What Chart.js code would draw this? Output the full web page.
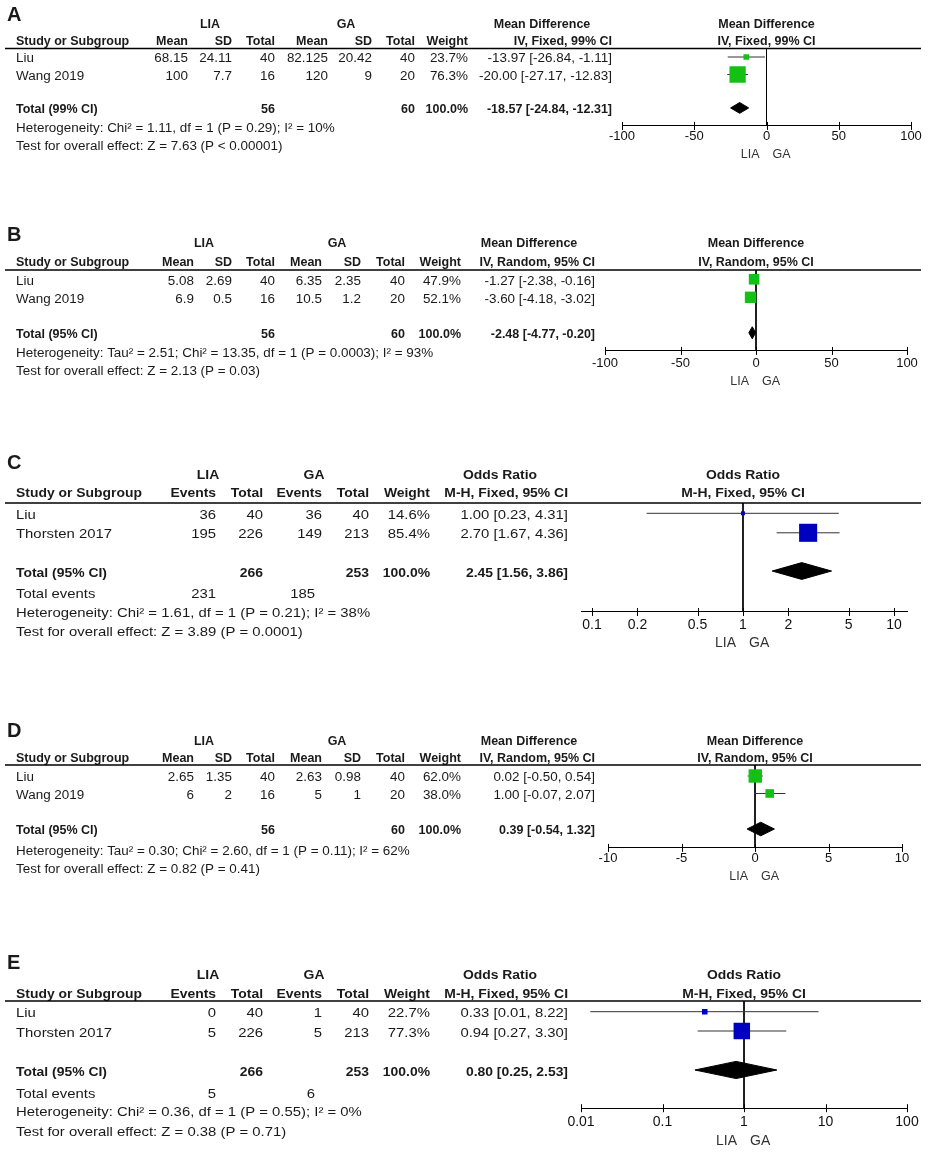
<!DOCTYPE html>
<html>
<head>
<meta charset="utf-8">
<script src="https://cdn.jsdelivr.net/npm/chart.js@4.4.1/dist/chart.umd.min.js"></script>
<style>
    html, body { margin: 0; padding: 0; background: #fff; }
    #fig { position: relative; width: 928px; height: 1153px; overflow: hidden; }
    #fig canvas { position: absolute; left: 0; }
</style>
</head>
<body>
<div id="fig"></div>
<script>
// =============================================================================
// Data
// =============================================================================

// A - mean difference, IV fixed, 99% CI
const A_STUDIES = ['Liu', 'Wang 2019'];
const A_LIA_MEAN = [68.15, 100];
const A_LIA_SD = [24.11, 7.7];
const A_LIA_N = [40, 16];
const A_GA_MEAN = [82.125, 120];
const A_GA_SD = [20.42, 9];
const A_GA_N = [40, 20];
const A_WEIGHT = [23.7, 76.3];
const A_EST = [-13.97, -20.00];
const A_LOW = [-26.84, -27.17];
const A_HIGH = [-1.11, -12.83];
const A_POOLED = [-18.57, -24.84, -12.31];
const A_TOTAL_N = [56, 60];
const A_TICKS = [-100, -50, 0, 50, 100];

// B - mean difference, IV random, 95% CI
const B_STUDIES = ['Liu', 'Wang 2019'];
const B_LIA_MEAN = [5.08, 6.9];
const B_LIA_SD = [2.69, 0.5];
const B_LIA_N = [40, 16];
const B_GA_MEAN = [6.35, 10.5];
const B_GA_SD = [2.35, 1.2];
const B_GA_N = [40, 20];
const B_WEIGHT = [47.9, 52.1];
const B_EST = [-1.27, -3.60];
const B_LOW = [-2.38, -4.18];
const B_HIGH = [-0.16, -3.02];
const B_POOLED = [-2.48, -4.77, -0.20];
const B_TOTAL_N = [56, 60];
const B_TICKS = [-100, -50, 0, 50, 100];

// C - odds ratio, M-H fixed, 95% CI
const C_STUDIES = ['Liu', 'Thorsten 2017'];
const C_LIA_EVENTS = [36, 195];
const C_LIA_N = [40, 226];
const C_GA_EVENTS = [36, 149];
const C_GA_N = [40, 213];
const C_WEIGHT = [14.6, 85.4];
const C_EST = [1.00, 2.70];
const C_LOW = [0.23, 1.67];
const C_HIGH = [4.31, 4.36];
const C_POOLED = [2.45, 1.56, 3.86];
const C_TOTAL_N = [266, 253];
const C_TOTAL_EVENTS = [231, 185];
const C_TICKS = [0.1, 0.2, 0.5, 1, 2, 5, 10];

// D - mean difference, IV random, 95% CI
const D_STUDIES = ['Liu', 'Wang 2019'];
const D_LIA_MEAN = [2.65, 6];
const D_LIA_SD = [1.35, 2];
const D_LIA_N = [40, 16];
const D_GA_MEAN = [2.63, 5];
const D_GA_SD = [0.98, 1];
const D_GA_N = [40, 20];
const D_WEIGHT = [62.0, 38.0];
const D_EST = [0.02, 1.00];
const D_LOW = [-0.50, -0.07];
const D_HIGH = [0.54, 2.07];
const D_POOLED = [0.39, -0.54, 1.32];
const D_TOTAL_N = [56, 60];
const D_TICKS = [-10, -5, 0, 5, 10];

// E - odds ratio, M-H fixed, 95% CI
const E_STUDIES = ['Liu', 'Thorsten 2017'];
const E_LIA_EVENTS = [0, 5];
const E_LIA_N = [40, 226];
const E_GA_EVENTS = [1, 5];
const E_GA_N = [40, 213];
const E_WEIGHT = [22.7, 77.3];
const E_EST = [0.33, 0.94];
const E_LOW = [0.013, 0.27];
const E_HIGH = [8.22, 3.30];
const E_POOLED = [0.80, 0.25, 2.53];
const E_TOTAL_N = [266, 253];
const E_TOTAL_EVENTS = [5, 6];
const E_TICKS = [0.01, 0.1, 1, 10, 100];

// =============================================================================
// Styles
// =============================================================================

const FONT = "'Liberation Sans', Arial, Helvetica, sans-serif";
const TEXT = '#1a1a1a';
const GREEN = '#14c014';
const BLUE = '#0000c0';
const CI_COLOR = '#333333';
const AXIS_H = 26;
const TEXT_DY = 2;

const MD_COLS_A = [188, 232, 275, 328, 372, 415, 468, 612];
const MD_COLS = [194, 232, 275, 322, 361, 405, 461, 595];
const OR_COLS = [216, 263, 322, 369, 430, 568];

// text metrics differ a little between the stacked sub-figures
const TEXT_SMALL = { size: 12.5, regSx: 1.075, boldSx: 1.0, tick: 13, fav: 12.5 };
const TEXT_LARGE = { size: 13, regSx: 1.145, boldSx: 1.07, tick: 14, fav: 14 };

// =============================================================================
// Panels
// =============================================================================

const PANELS = [
    {
        letter: 'A', color: GREEN, nullValue: 0, log: false,
        effect: 'Mean Difference', method: 'IV, Fixed, 99% CI', totalLabel: 'Total (99% CI)',
        colHeads: ['Mean', 'SD', 'Total', 'Mean', 'SD', 'Total'],
        cells: [A_LIA_MEAN, A_LIA_SD, A_LIA_N, A_GA_MEAN, A_GA_SD, A_GA_N],
        totalCols: [2, 5], totalN: A_TOTAL_N,
        studies: A_STUDIES, weight: A_WEIGHT, est: A_EST, low: A_LOW, high: A_HIGH, pooled: A_POOLED,
        ticks: A_TICKS,
        het: 'Heterogeneity: Chi\u00b2 = 1.11, df = 1 (P = 0.29); I\u00b2 = 10%',
        test: 'Test for overall effect: Z = 7.63 (P < 0.00001)',
        layout: {
            top: 0, height: 215, y1: 57, pitch: 17.5, text: TEXT_SMALL,
            rows: { letter: -1.4, h1: -0.95, h2: 0.03, rule: 0.51, total: 3.91, het: 5.0, test: 6.03, axis: 4.94 },
            xPx: [622, 911], xRange: [-100, 100], tickPad: 3, favY: 29, diamondHalf: 5.4,
            cols: MD_COLS_A, groups: [210, 346, 542]
        }
    },
    {
        letter: 'B', color: GREEN, nullValue: 0, log: false,
        effect: 'Mean Difference', method: 'IV, Random, 95% CI', totalLabel: 'Total (95% CI)',
        colHeads: ['Mean', 'SD', 'Total', 'Mean', 'SD', 'Total'],
        cells: [B_LIA_MEAN, B_LIA_SD, B_LIA_N, B_GA_MEAN, B_GA_SD, B_GA_N],
        totalCols: [2, 5], totalN: B_TOTAL_N,
        studies: B_STUDIES, weight: B_WEIGHT, est: B_EST, low: B_LOW, high: B_HIGH, pooled: B_POOLED,
        ticks: B_TICKS,
        het: 'Heterogeneity: Tau\u00b2 = 2.51; Chi\u00b2 = 13.35, df = 1 (P = 0.0003); I\u00b2 = 93%',
        test: 'Test for overall effect: Z = 2.13 (P = 0.03)',
        layout: {
            top: 215, height: 235, y1: 279.3, pitch: 18, text: TEXT_SMALL,
            rows: { letter: -1.46, h1: -1.07, h2: -0.02, rule: 0.48, total: 3.97, het: 5.04, test: 6.04, axis: 4.98 },
            xPx: [605, 907], xRange: [-100, 100], tickPad: 5, favY: 31, diamondHalf: 6,
            cols: MD_COLS, groups: [204, 337, 529]
        }
    },
    {
        letter: 'C', color: BLUE, nullValue: 1, log: true,
        effect: 'Odds Ratio', method: 'M-H, Fixed, 95% CI', totalLabel: 'Total (95% CI)',
        colHeads: ['Events', 'Total', 'Events', 'Total'],
        cells: [C_LIA_EVENTS, C_LIA_N, C_GA_EVENTS, C_GA_N],
        totalCols: [1, 3], totalN: C_TOTAL_N, events: C_TOTAL_EVENTS,
        studies: C_STUDIES, weight: C_WEIGHT, est: C_EST, low: C_LOW, high: C_HIGH, pooled: C_POOLED,
        ticks: C_TICKS,
        het: 'Heterogeneity: Chi\u00b2 = 1.61, df = 1 (P = 0.21); I\u00b2 = 38%',
        test: 'Test for overall effect: Z = 3.89 (P = 0.0001)',
        layout: {
            top: 450, height: 250, y1: 513.3, pitch: 19.5, text: TEXT_LARGE,
            rows: { letter: -1.53, h1: -1.02, h2: -0.14, rule: 0.47, total: 3.96, events: 5.07, het: 6.02, test: 7.0, axis: 6.06 },
            xPx: [581, 907], xRange: [0.0846, 12.19], tickPad: 5, favY: 31, diamondHalf: 8.4,
            cols: OR_COLS, groups: [208, 314, 500], eventsX: [216, 315]
        }
    },
    {
        letter: 'D', color: GREEN, nullValue: 0, log: false,
        effect: 'Mean Difference', method: 'IV, Random, 95% CI', totalLabel: 'Total (95% CI)',
        colHeads: ['Mean', 'SD', 'Total', 'Mean', 'SD', 'Total'],
        cells: [D_LIA_MEAN, D_LIA_SD, D_LIA_N, D_GA_MEAN, D_GA_SD, D_GA_N],
        totalCols: [2, 5], totalN: D_TOTAL_N,
        studies: D_STUDIES, weight: D_WEIGHT, est: D_EST, low: D_LOW, high: D_HIGH, pooled: D_POOLED,
        ticks: D_TICKS,
        het: 'Heterogeneity: Tau\u00b2 = 0.30; Chi\u00b2 = 2.60, df = 1 (P = 0.11); I\u00b2 = 62%',
        test: 'Test for overall effect: Z = 0.82 (P = 0.41)',
        layout: {
            top: 700, height: 245, y1: 776, pitch: 17.5, text: TEXT_SMALL,
            rows: { letter: -1.57, h1: -1.11, h2: -0.09, rule: 0.37, total: 4.03, het: 5.2, test: 6.22, axis: 5.11 },
            xPx: [608, 902], xRange: [-10, 10], tickPad: 3, favY: 29, diamondHalf: 6.8,
            cols: MD_COLS, groups: [204, 337, 529]
        }
    },
    {
        letter: 'E', color: BLUE, nullValue: 1, log: true,
        effect: 'Odds Ratio', method: 'M-H, Fixed, 95% CI', totalLabel: 'Total (95% CI)',
        colHeads: ['Events', 'Total', 'Events', 'Total'],
        cells: [E_LIA_EVENTS, E_LIA_N, E_GA_EVENTS, E_GA_N],
        totalCols: [1, 3], totalN: E_TOTAL_N, events: E_TOTAL_EVENTS,
        studies: E_STUDIES, weight: E_WEIGHT, est: E_EST, low: E_LOW, high: E_HIGH, pooled: E_POOLED,
        ticks: E_TICKS,
        het: 'Heterogeneity: Chi\u00b2 = 0.36, df = 1 (P = 0.55); I\u00b2 = 0%',
        test: 'Test for overall effect: Z = 0.38 (P = 0.71)',
        layout: {
            top: 945, height: 208, y1: 1011.7, pitch: 19.3, text: TEXT_LARGE,
            rows: { letter: -1.52, h1: -1.0, h2: 0.0, rule: 0.45, total: 4.02, events: 5.16, het: 6.14, test: 7.13, axis: 6.0 },
            xPx: [581, 907], xRange: [0.01, 100], tickPad: 6, favY: 33, diamondHalf: 8.6,
            cols: OR_COLS, groups: [208, 314, 500], eventsX: [216, 315]
        }
    }
];

// =============================================================================
// Helpers
// =============================================================================

function ciText(est, low, high) {
    return est.toFixed(2) + ' [' + low.toFixed(2) + ', ' + high.toFixed(2) + ']';
}

// square side grows with study weight
function squareRadius(w) {
    return (1 + 0.2 * w) / Math.SQRT2;
}

function tablePlugin(p) {
    const L = p.layout;
    const F = L.text;
    return {
        id: 'table' + p.letter,
        afterDraw(chart) {
            const ctx = chart.ctx;
            const xs = chart.scales.x;
            const ys = chart.scales.y;
            const yAt = r => ys.getPixelForValue(r) + TEXT_DY;
            const put = (str, x, r, align, bold) => {
                ctx.font = (bold ? 'bold ' : '') + F.size + 'px ' + FONT;
                ctx.textAlign = align;
                ctx.save();
                ctx.translate(x, yAt(r));
                ctx.scale(bold ? F.boldSx : F.regSx, 1);
                ctx.fillText(str, 0, 0);
                ctx.restore();
            };
            const nW = p.cells.length;
            const nullX = xs.getPixelForValue(p.nullValue);

            ctx.save();
            ctx.fillStyle = TEXT;
            ctx.textBaseline = 'middle';

            // panel letter
            ctx.font = 'bold 20px ' + FONT;
            ctx.textAlign = 'left';
            ctx.fillText(p.letter, 7, ys.getPixelForValue(L.rows.letter));

            // headers
            put('LIA', L.groups[0], L.rows.h1, 'center', true);
            put('GA', L.groups[1], L.rows.h1, 'center', true);
            put(p.effect, L.groups[2], L.rows.h1, 'center', true);
            put(p.effect, nullX, L.rows.h1, 'center', true);
            put(p.method, nullX, L.rows.h2, 'center', true);
            put('Study or Subgroup', 16, L.rows.h2, 'left', true);
            p.colHeads.concat(['Weight', p.method]).forEach((h, j) => put(h, L.cols[j], L.rows.h2, 'right', true));

            // header rule
            const ruleY = chart.chartArea.top;
            ctx.strokeStyle = '#000';
            ctx.lineWidth = 1.5;
            ctx.beginPath();
            ctx.moveTo(5, ruleY);
            ctx.lineTo(921, ruleY);
            ctx.stroke();

            // study rows
            p.studies.forEach((s, i) => {
                const r = i + 1;
                put(s, 16, r, 'left');
                p.cells.forEach((col, j) => put(String(col[i]), L.cols[j], r, 'right'));
                put(p.weight[i].toFixed(1) + '%', L.cols[nW], r, 'right');
                put(ciText(p.est[i], p.low[i], p.high[i]), L.cols[nW + 1], r, 'right');
            });

            // total row
            const wSum = p.weight.reduce((a, b) => a + b, 0);
            put(p.totalLabel, 16, L.rows.total, 'left', true);
            p.totalN.forEach((n, k) => put(String(n), L.cols[p.totalCols[k]], L.rows.total, 'right', true));
            put(wSum.toFixed(1) + '%', L.cols[nW], L.rows.total, 'right', true);
            put(ciText(p.pooled[0], p.pooled[1], p.pooled[2]), L.cols[nW + 1], L.rows.total, 'right', true);

            if (p.events) {
                put('Total events', 16, L.rows.events, 'left');
                p.events.forEach((e, k) => put(String(e), L.eventsX[k], L.rows.events, 'right'));
            }
            put(p.het, 16, L.rows.het, 'left');
            put(p.test, 16, L.rows.test, 'left');

            // tick marks crossing the axis
            const axisY = chart.chartArea.bottom;
            ctx.strokeStyle = '#000';
            ctx.lineWidth = 1;
            xs.ticks.forEach(t => {
                const x = Math.round(xs.getPixelForValue(t.value)) + 0.5;
                ctx.beginPath();
                ctx.moveTo(x, axisY - 4);
                ctx.lineTo(x, axisY + 4);
                ctx.stroke();
            });

            // favours labels
            ctx.font = F.fav + 'px ' + FONT;
            ctx.fillStyle = '#333';
            ctx.textAlign = 'right';
            ctx.fillText('LIA', nullX - 7, axisY + L.favY);
            ctx.textAlign = 'left';
            ctx.fillText('GA', nullX + 6, axisY + L.favY);
            ctx.restore();
        }
    };
}

function buildDatasets(p) {
    const L = p.layout;
    const datasets = [];

    // line of no effect
    datasets.push({
        data: [{ x: p.nullValue, y: L.rows.rule }, { x: p.nullValue, y: L.rows.axis }],
        showLine: true, borderColor: '#000', borderWidth: 1, pointRadius: 0, order: 5
    });

    // confidence intervals
    p.studies.forEach((s, i) => {
        datasets.push({
            data: [{ x: p.low[i], y: i + 1 }, { x: p.high[i], y: i + 1 }],
            showLine: true, borderColor: CI_COLOR, borderWidth: 1, pointRadius: 0, order: 4
        });
    });

    // study estimates
    datasets.push({
        data: p.est.map((v, i) => ({ x: v, y: i + 1 })),
        pointStyle: 'rect',
        pointRadius: p.weight.map(squareRadius),
        backgroundColor: p.color,
        borderColor: p.color,
        borderWidth: 0,
        order: 3
    });

    // pooled diamond: upper half filled down to lower half
    const dh = L.diamondHalf / L.pitch;
    const [pe, plo, phi] = p.pooled;
    const t = L.rows.total;
    const upperIdx = datasets.length;
    datasets.push({
        data: [{ x: plo, y: t }, { x: pe, y: t - dh }, { x: phi, y: t }],
        showLine: true, borderColor: '#000', borderWidth: 1, pointRadius: 0, tension: 0, order: 1
    });
    datasets.push({
        data: [{ x: plo, y: t }, { x: pe, y: t + dh }, { x: phi, y: t }],
        showLine: true, borderColor: '#000', borderWidth: 1, pointRadius: 0, tension: 0, order: 1,
        backgroundColor: '#000',
        fill: { target: upperIdx, above: '#000', below: '#000' }
    });
    return datasets;
}

function makePanel(p) {
    const L = p.layout;
    const canvas = document.createElement('canvas');
    canvas.width = 928;
    canvas.height = L.height;
    canvas.style.top = L.top + 'px';
    canvas.style.width = '928px';
    canvas.style.height = L.height + 'px';
    document.getElementById('fig').appendChild(canvas);

    const localY = r => L.y1 + (r - 1) * L.pitch - L.top;
    const padTop = localY(L.rows.rule);
    const padBottom = L.height - localY(L.rows.axis) - AXIS_H;

    new Chart(canvas.getContext('2d'), {
        type: 'scatter',
        data: { datasets: buildDatasets(p) },
        options: {
            responsive: false,
            animation: false,
            events: [],
            layout: {
                autoPadding: false,
                padding: { left: L.xPx[0], right: 928 - L.xPx[1], top: padTop, bottom: padBottom }
            },
            plugins: {
                legend: { display: false },
                tooltip: { enabled: false }
            },
            scales: {
                x: {
                    type: p.log ? 'logarithmic' : 'linear',
                    min: L.xRange[0],
                    max: L.xRange[1],
                    bounds: 'data',
                    afterBuildTicks: s => { s.ticks = p.ticks.map(v => ({ value: v })); },
                    afterFit: s => { s.height = AXIS_H; },
                    grid: { display: false, drawTicks: false },
                    border: { display: true, color: '#000', width: 1 },
                    ticks: {
                        padding: L.tickPad,
                        color: '#111',
                        autoSkip: false,
                        maxRotation: 0,
                        font: { family: FONT, size: L.text.tick },
                        callback: v => String(v)
                    }
                },
                y: {
                    type: 'linear',
                    min: L.rows.rule,
                    max: L.rows.axis,
                    reverse: true,
                    display: false
                }
            }
        },
        plugins: [tablePlugin(p)]
    });
}

PANELS.forEach(makePanel);
</script>
</body>
</html>
